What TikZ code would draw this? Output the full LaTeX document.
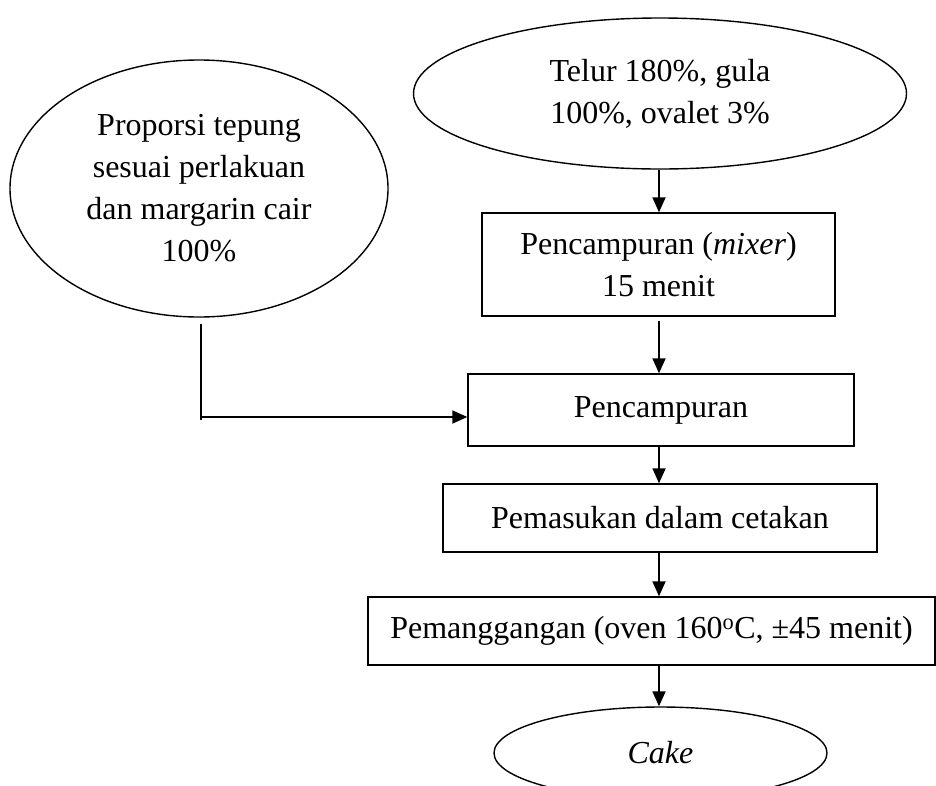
\documentclass[tikz,border=0pt]{standalone}
\usepackage{fontspec}
\setmainfont{Liberation Serif}
\usetikzlibrary{arrows.meta,positioning,shapes.geometric,calc}

\begin{document}
\begin{tikzpicture}[x=1pt, y=-1pt,
    font=\fontsize{32}{42}\selectfont,
    oval/.style={draw, line width=1.4pt, ellipse, align=center, inner sep=0pt},
    stepbox/.style={draw, line width=1.4pt, rectangle, align=center, inner sep=0pt},
    flow/.style={line width=1.8pt, -{Triangle[width=13pt,length=15pt]}}]
  \useasboundingbox (0,0) rectangle (936,785);
  \clip (0,0) rectangle (936,785);
  % inputs
  \node[oval, minimum width=493, minimum height=151] (egg) at (660,93.5)
    {Telur 180\%, gula\\100\%, ovalet 3\%};
  \node[oval, minimum width=378, minimum height=257] (flour) at (199,188.5)
    {Proporsi tepung\\sesuai perlakuan\\dan margarin cair\\100\%};
  % steps
  \node[stepbox, minimum width=353, minimum height=103] (mixer) at (658.5,264.5)
    {Pencampuran (\textit{mixer})\\15 menit};
  \node[stepbox, minimum width=386, minimum height=72] (mix) at (661,410)
    {Pencampuran};
  \node[stepbox, minimum width=434, minimum height=68] (mould) at (660,518)
    {Pemasukan dalam cetakan};
  \node[stepbox, minimum width=567, minimum height=68] (bake) at (651.5,631)
    {Pemanggangan (oven 160\textsuperscript{o}C, ±45 menit)};
  \node[oval, minimum width=333, minimum height=92] (cake) at (660.5,753)
    {\textit{Cake}};
  % connectors
  \coordinate (spine) at (659,0);
  \coordinate (bend) at (201,420);
  \coordinate (join) at (201,417);
  \draw[line width=1.6pt] ([xshift=2pt, yshift=-6pt]flour.south) -- (bend);
  \draw[flow] (join) -- (join -| mix.west);
  \draw[flow] (spine |- egg.south) -- (spine |- mixer.north);
  \draw[flow] ([yshift=-4pt]spine |- mixer.south) -- (spine |- mix.north);
  \draw[flow] (spine |- mix.south) -- (spine |- mould.north);
  \draw[flow] (spine |- mould.south) -- (spine |- bake.north);
  \draw[flow] (spine |- bake.south) -- (spine |- cake.north);
\end{tikzpicture}
\end{document}
